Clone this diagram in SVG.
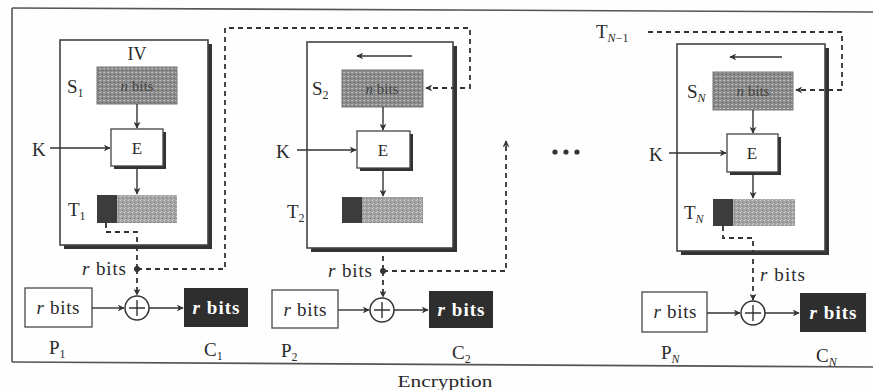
<svg xmlns="http://www.w3.org/2000/svg" width="873" height="390" viewBox="0 0 873 390">
<defs>
  <marker id="ah" viewBox="0 0 10 10" refX="9" refY="5" markerWidth="7" markerHeight="7" orient="auto" markerUnits="userSpaceOnUse">
    <path d="M0,0 L10,5 L0,10 L3,5 z" fill="#333"/>
  </marker>
  <pattern id="stip" width="4" height="4" patternUnits="userSpaceOnUse">
    <rect width="4" height="4" fill="#8c8c8c"/>
    <rect x="0" y="0" width="1" height="1" fill="#c4c4c4"/>
    <rect x="2" y="2" width="1" height="1" fill="#5a5a5a"/>
    <rect x="3" y="0" width="1" height="1" fill="#b0b0b0"/>
  </pattern>
  <pattern id="stipL" width="4" height="4" patternUnits="userSpaceOnUse">
    <rect width="4" height="4" fill="#a4a4a4"/>
    <rect x="0" y="0" width="1" height="1" fill="#d0d0d0"/>
    <rect x="2" y="2" width="1" height="1" fill="#777"/>
    <rect x="1" y="3" width="1" height="1" fill="#c8c8c8"/>
  </pattern>
</defs>
<style>
  text { font-family: "Liberation Serif", "Times New Roman", serif; fill: #2a2a2a; }
  .lbl { font-size: 19px; }
  .sub { font-size: 12px; }
  .k { font-size: 19px; }
  .e { font-size: 17px; }
  .rb { font-size: 19px; }
  .rbw { font-size: 19px; font-weight: bold; fill: #ffffff; }
  .nb { font-size: 15px; fill: #454545; }
  .frame { fill: none; stroke: #555; stroke-width: 1.6; }
  .blk { fill: #ffffff; stroke: #444; stroke-width: 1.6; }
  .shadow { fill: #333; }
  .sbox { fill: url(#stip); stroke: #777; stroke-width: 1; }
  .tlight { fill: url(#stipL); }
  .tdark { fill: #3c3c3c; }
  .ebox { fill: #ffffff; stroke: #444; stroke-width: 1.3; }
  .pbox { fill: #ffffff; stroke: #555; stroke-width: 1.4; }
  .cbox { fill: #2e2e2e; }
  .xor { fill: #ffffff; stroke: #333; stroke-width: 1.5; }
  .solid { fill: none; stroke: #333; stroke-width: 1.4; }
  .dash { fill: none; stroke: #333; stroke-width: 1.8; stroke-dasharray: 5 4; }
  .dot { fill: #333; }
</style>
<rect x="0" y="0" width="873" height="390" fill="#fefefe"/>

<g id="frame">
  <line class="frame" x1="12" y1="8" x2="873" y2="12"/>
  <line class="frame" x1="12" y1="8" x2="12" y2="362"/>
  <line class="frame" x1="12" y1="362" x2="873" y2="367"/>
</g>

<!-- Stage 1 -->
<g id="stage1">
  <rect class="shadow" x="64" y="44" width="148" height="205"/>
  <rect class="blk" x="60" y="40" width="148" height="205"/>
  <text x="137" y="60" text-anchor="middle" font-size="18">IV</text>
  <g id="S1">
    <text class="lbl" x="67" y="93">S<tspan class="sub" dy="4">1</tspan></text>
    <rect class="sbox" x="97" y="67" width="80" height="37"/>
    <text class="nb" x="137" y="91" text-anchor="middle"><tspan font-style="italic">n</tspan> bits</text>
  </g>
  <g id="E1">
    <rect class="shadow" x="114" y="132" width="52" height="37"/>
    <rect class="ebox" x="111" y="129" width="52" height="37"/>
    <text class="e" x="137" y="154" text-anchor="middle">E</text>
  </g>
  <g id="T1">
    <text class="lbl" x="68" y="216">T<tspan class="sub" dy="4">1</tspan></text>
    <rect class="tlight" x="97" y="195" width="80" height="28"/>
    <rect class="tdark" x="97" y="195" width="20" height="28"/>
  </g>
  <text id="K1" class="k" x="32" y="156">K</text>
</g>

<!-- Stage 2 -->
<g id="stage2">
  <rect class="shadow" x="311" y="46" width="146" height="206"/>
  <rect class="blk" x="307" y="42" width="146" height="206"/>
  <g id="S2">
    <text class="lbl" x="312" y="95">S<tspan class="sub" dy="4">2</tspan></text>
    <rect class="sbox" x="342" y="70" width="81" height="37"/>
    <text class="nb" x="382" y="94" text-anchor="middle"><tspan font-style="italic">n</tspan> bits</text>
  </g>
  <g id="E2">
    <rect class="shadow" x="360" y="134" width="53" height="37"/>
    <rect class="ebox" x="357" y="131" width="53" height="37"/>
    <text class="e" x="383" y="156" text-anchor="middle">E</text>
  </g>
  <g id="T2">
    <text class="lbl" x="287" y="218">T<tspan class="sub" dy="4">2</tspan></text>
    <rect class="tlight" x="342" y="197" width="81" height="26"/>
    <rect class="tdark" x="342" y="197" width="20" height="26"/>
  </g>
  <text id="K2" class="k" x="276" y="158">K</text>
</g>

<!-- Stage N -->
<g id="stageN">
  <rect class="shadow" x="681" y="48" width="148" height="207"/>
  <rect class="blk" x="677" y="44" width="148" height="207"/>
  <g id="SN">
    <text class="lbl" x="687" y="98">S<tspan class="sub" dy="4" font-style="italic">N</tspan></text>
    <rect class="sbox" x="713" y="72" width="80" height="38"/>
    <text class="nb" x="753" y="96" text-anchor="middle"><tspan font-style="italic">n</tspan> bits</text>
  </g>
  <g id="EN">
    <rect class="shadow" x="730" y="137" width="51" height="38"/>
    <rect class="ebox" x="727" y="134" width="51" height="38"/>
    <text class="e" x="752" y="159" text-anchor="middle">E</text>
  </g>
  <g id="TN">
    <text class="lbl" x="684" y="219">T<tspan class="sub" dy="4" font-style="italic">N</tspan></text>
    <rect class="tlight" x="713" y="199" width="82" height="27"/>
    <rect class="tdark" x="713" y="199" width="20" height="27"/>
  </g>
  <text id="KN" class="k" x="649" y="161">K</text>
  <text id="TNm1" class="lbl" x="596" y="38">T<tspan class="sub" dy="4"><tspan font-style="italic">N</tspan>−1</tspan></text>
</g>

<!-- Bottom row 1 -->
<g id="P1">
  <rect class="pbox" x="25" y="288" width="67" height="39"/>
  <text class="rb" x="58" y="314" text-anchor="middle" textLength="43" lengthAdjust="spacing"><tspan font-style="italic">r</tspan> bits</text>
  <text class="lbl" x="49" y="354">P<tspan class="sub" dy="4">1</tspan></text>
</g>
<g id="X1"><circle class="xor" cx="137" cy="308" r="12"/><path class="solid" d="M137,300 V316 M129,308 H145"/></g>
<g id="C1">
  <rect class="cbox" x="184" y="288" width="64" height="39"/>
  <text class="rbw" x="216" y="314" text-anchor="middle" textLength="47" lengthAdjust="spacing"><tspan font-style="italic">r</tspan> bits</text>
  <text class="lbl" x="204" y="356">C<tspan class="sub" dy="4">1</tspan></text>
</g>
<text id="rb1" class="rb" x="82" y="275" textLength="44" lengthAdjust="spacing"><tspan font-style="italic">r</tspan> bits</text>

<!-- Bottom row 2 -->
<g id="P2">
  <rect class="pbox" x="272" y="290" width="66" height="38"/>
  <text class="rb" x="305" y="316" text-anchor="middle" textLength="43" lengthAdjust="spacing"><tspan font-style="italic">r</tspan> bits</text>
  <text class="lbl" x="281" y="357">P<tspan class="sub" dy="4">2</tspan></text>
</g>
<g id="X2"><circle class="xor" cx="382" cy="310" r="12"/><path class="solid" d="M382,302 V318 M374,310 H390"/></g>
<g id="C2">
  <rect class="cbox" x="429" y="291" width="64" height="37"/>
  <text class="rbw" x="461" y="316" text-anchor="middle" textLength="47" lengthAdjust="spacing"><tspan font-style="italic">r</tspan> bits</text>
  <text class="lbl" x="452" y="359">C<tspan class="sub" dy="4">2</tspan></text>
</g>
<text id="rb2" class="rb" x="328" y="277" textLength="44" lengthAdjust="spacing"><tspan font-style="italic">r</tspan> bits</text>

<!-- Bottom row N -->
<g id="PN">
  <rect class="pbox" x="642" y="292" width="65" height="40"/>
  <text class="rb" x="675" y="318" text-anchor="middle" textLength="43" lengthAdjust="spacing"><tspan font-style="italic">r</tspan> bits</text>
  <text class="lbl" x="661" y="359">P<tspan class="sub" dy="4" font-style="italic">N</tspan></text>
</g>
<g id="XN"><circle class="xor" cx="753" cy="313" r="12"/><path class="solid" d="M753,305 V321 M745,313 H761"/></g>
<g id="CN">
  <rect class="cbox" x="800" y="293" width="66" height="39"/>
  <text class="rbw" x="833" y="319" text-anchor="middle" textLength="47" lengthAdjust="spacing"><tspan font-style="italic">r</tspan> bits</text>
  <text class="lbl" x="816" y="362">C<tspan class="sub" dy="4" font-style="italic">N</tspan></text>
</g>
<text id="rbN" class="rb" x="760" y="281" textLength="45" lengthAdjust="spacing"><tspan font-style="italic">r</tspan> bits</text>

<g id="ellipsis">
  <circle class="dot" cx="555" cy="152" r="2.6"/>
  <circle class="dot" cx="566" cy="152" r="2.6"/>
  <circle class="dot" cx="577" cy="152" r="2.6"/>
</g>

<text id="caption" x="445" y="387" text-anchor="middle" font-size="16" textLength="95" lengthAdjust="spacingAndGlyphs">Encryption</text>

<g id="connectors">
  <line class="solid" x1="50" y1="148" x2="110" y2="148" marker-end="url(#ah)"/>
  <line class="solid" x1="297" y1="150" x2="356" y2="150" marker-end="url(#ah)"/>
  <line class="solid" x1="669" y1="153" x2="726" y2="153" marker-end="url(#ah)"/>
  <line class="solid" x1="137" y1="104" x2="137" y2="128" marker-end="url(#ah)"/>
  <line class="solid" x1="137" y1="166" x2="137" y2="194" marker-end="url(#ah)"/>
  <line class="solid" x1="383" y1="107" x2="383" y2="130" marker-end="url(#ah)"/>
  <line class="solid" x1="383" y1="168" x2="383" y2="196" marker-end="url(#ah)"/>
  <line class="solid" x1="753" y1="110" x2="753" y2="133" marker-end="url(#ah)"/>
  <line class="solid" x1="753" y1="172" x2="753" y2="198" marker-end="url(#ah)"/>
  <line class="solid" x1="412" y1="56" x2="357" y2="56" marker-end="url(#ah)"/>
  <line class="solid" x1="782" y1="57" x2="730" y2="57" marker-end="url(#ah)"/>
  <line class="solid" x1="92" y1="308" x2="124" y2="308" marker-end="url(#ah)"/>
  <line class="solid" x1="149" y1="308" x2="183" y2="308" marker-end="url(#ah)"/>
  <line class="solid" x1="338" y1="310" x2="369" y2="310" marker-end="url(#ah)"/>
  <line class="solid" x1="394" y1="310" x2="428" y2="310" marker-end="url(#ah)"/>
  <line class="solid" x1="707" y1="313" x2="740" y2="313" marker-end="url(#ah)"/>
  <line class="solid" x1="765" y1="313" x2="799" y2="313" marker-end="url(#ah)"/>
  <path class="dash" d="M106,223 V232 H137 V269"/>
  <path class="dash" d="M137,269 V295" marker-end="url(#ah)"/>
  <path class="dash" d="M137,269 H225 V28 H470 V88 H426" marker-end="url(#ah)"/>
  <circle class="dot" cx="137" cy="269" r="3"/>
  <path class="dash" d="M383,256 V271"/>
  <path class="dash" d="M383,271 V297" marker-end="url(#ah)"/>
  <path class="dash" d="M383,271 H506 V141" marker-end="url(#ah)"/>
  <circle class="dot" cx="383" cy="271" r="3"/>
  <path class="dash" d="M648,32 H842 V90 H796" marker-end="url(#ah)"/>
  <path class="dash" d="M723,226 V238 H753 V300" marker-end="url(#ah)"/>
</g>
</svg>
